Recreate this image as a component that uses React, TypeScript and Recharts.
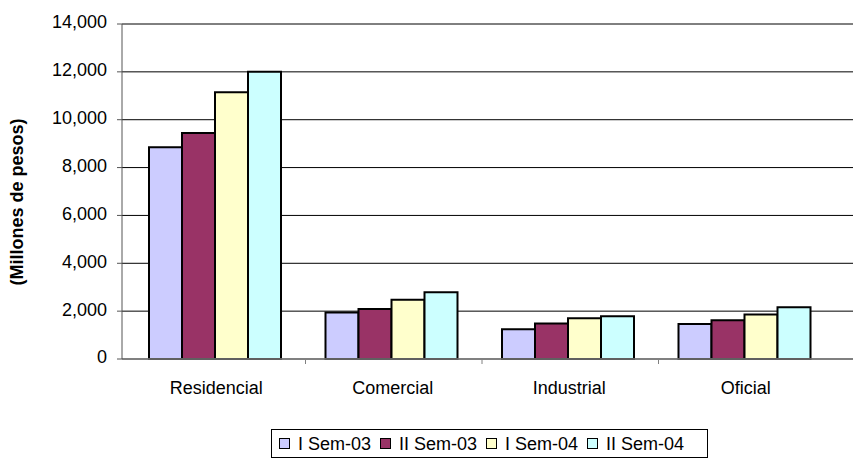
import { BarChart, Bar, XAxis, YAxis, CartesianGrid, Legend } from 'recharts';

const categories = ['Residencial', 'Comercial', 'Industrial', 'Oficial'];
const seriesNames = ['I Sem-03', 'II Sem-03', 'I Sem-04', 'II Sem-04'];
const sem1_03 = [8850, 1940, 1240, 1465];
const sem2_03 = [9450, 2090, 1480, 1620];
const sem1_04 = [11150, 2480, 1700, 1855];
const sem2_04 = [12000, 2790, 1785, 2160];
const yTicks = [0, 2000, 4000, 6000, 8000, 10000, 12000, 14000];

const COLORS = ['#CCCCFF', '#993366', '#FFFFCC', '#CCFFFF'];
const FONT = '"Liberation Sans", Arial, sans-serif';
const PAD_LEFT = 4;
const PAD_RIGHT = 21;

const seriesValues = [sem1_03, sem2_03, sem1_04, sem2_04];

const data = categories.map((name, i) => {
  const row: Record<string, string | number> = { name };
  seriesNames.forEach((s, j) => {
    row[s] = seriesValues[j][i];
  });
  return row;
});

const formatNumber = (v: number) => v.toLocaleString('en-US');

// category labels plus tick marks between the groups
const CategoryTick = (props: any) => {
  const { x, y, payload, index, width } = props;
  const band = (width - PAD_LEFT - PAD_RIGHT) / categories.length;
  const tx = x + band / 2 + 3;
  return (
    <g>
      {index < categories.length - 1 && (
        <line x1={tx} y1={y} x2={tx} y2={y + 5} stroke="#808080" strokeWidth={1} />
      )}
      <text x={x + 2} y={y + 35} textAnchor="middle" fontSize={18} fontFamily={FONT} fill="#000">
        {payload.value}
      </text>
    </g>
  );
};

const YLabel = () => (
  <text
    x={17}
    y={202}
    transform="rotate(-90 17 202)"
    textAnchor="middle"
    dominantBaseline="central"
    fontSize={18}
    fontWeight="bold"
    fontFamily={FONT}
    fill="#000"
  >
    (Millones de pesos)
  </text>
);

const LegendBox = ({ payload }: any) => {
  const items = [...(payload || [])].sort(
    (a: any, b: any) => seriesNames.indexOf(a.value) - seriesNames.indexOf(b.value)
  );
  return (
    <div
      style={{
        border: '1px solid #000',
        boxSizing: 'border-box',
        height: 29,
        display: 'flex',
        alignItems: 'center',
        paddingLeft: 7,
        fontFamily: FONT,
        fontSize: 18,
        color: '#000',
        background: '#fff',
      }}
    >
      {items.map((entry: any, i: number) => (
        <span key={`leg-${i}`} style={{ display: 'flex', alignItems: 'center', marginRight: 9 }}>
          <span
            style={{
              width: 11,
              height: 11,
              boxSizing: 'border-box',
              border: '1px solid #000',
              background: entry.color,
              marginRight: 8,
              display: 'inline-block',
            }}
          />
          <span style={{ lineHeight: '20px' }}>{entry.value}</span>
        </span>
      ))}
    </div>
  );
};

export default function App() {
  return (
    <div style={{ position: 'absolute', left: 0, top: 0, width: 853, height: 462, background: '#fff' }}>
      <BarChart
        width={853}
        height={462}
        data={data}
        margin={{ top: 24, right: 0, bottom: 43, left: 0 }}
        barGap={0}
        barCategoryGap={23}
      >
        <CartesianGrid vertical={false} stroke="#000" strokeWidth={1} />
        <XAxis
          dataKey="name"
          height={60}
          padding={{ left: PAD_LEFT, right: PAD_RIGHT }}
          tickLine={false}
          tickSize={0}
          tickMargin={0}
          axisLine={{ stroke: '#808080', strokeWidth: 1.5 }}
          tick={<CategoryTick />}
          interval={0}
        />
        <YAxis
          width={122}
          domain={[0, 14000]}
          ticks={yTicks}
          interval={0}
          tickFormatter={formatNumber}
          tickSize={5}
          tickMargin={10}
          tickLine={{ stroke: '#555' }}
          axisLine={{ stroke: '#555' }}
          tick={{ fontSize: 18, fontFamily: FONT, fill: '#000', dy: -2 }}
          label={<YLabel />}
        />
        <Legend
          layout="horizontal"
          verticalAlign="middle"
          align="center"
          content={<LegendBox />}
          wrapperStyle={{ left: 271, top: 429, width: 437, height: 29 }}
        />
        {seriesNames.map((s, i) => (
          <Bar key={s} dataKey={s} fill={COLORS[i]} stroke="#000" strokeWidth={2} isAnimationActive={false} />
        ))}
      </BarChart>
    </div>
  );
}
